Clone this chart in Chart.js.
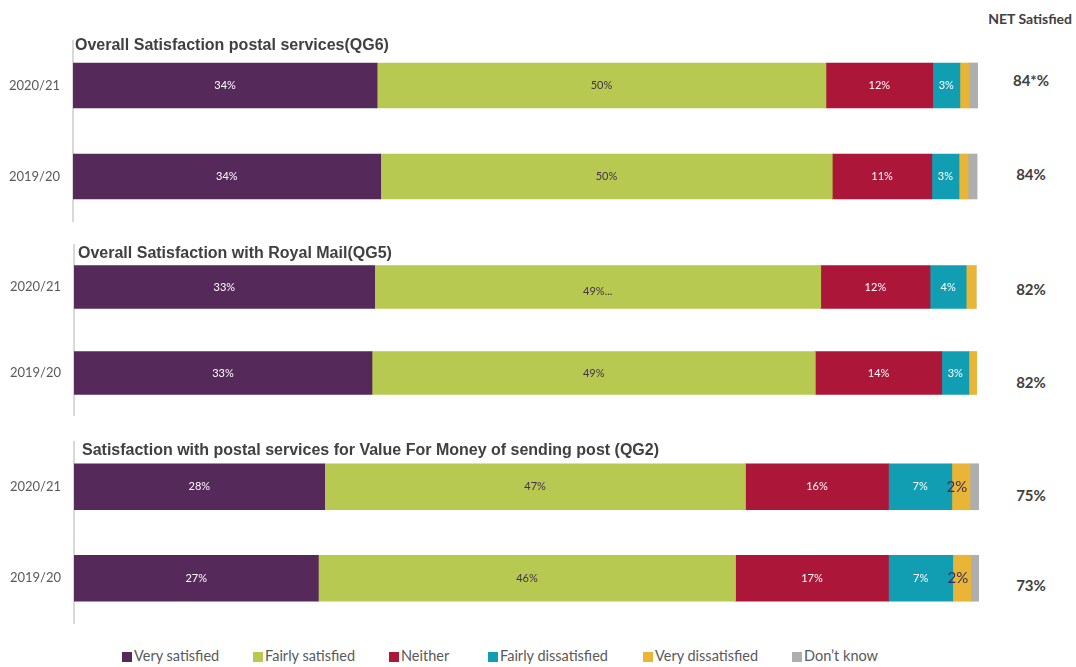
<!DOCTYPE html>
<html lang="en">
<head>
  <meta charset="UTF-8">
  <title>Satisfaction with postal services</title>
  <style>
    body { margin: 0; background: #fff; font-family: Lato, sans-serif; }
    #wrap { position: relative; width: 1076px; height: 667px; overflow: hidden; }
    .panel { position: absolute; left: 0; }
    .title { position: absolute; font-family: "Liberation Sans", Arial, sans-serif; font-weight: bold; font-size: 16px; color: #404040; white-space: nowrap; line-height: 18px; z-index: 2; }
    .net { position: absolute; width: 80px; left: 991px; text-align: center; font-weight: bold; font-size: 15px; color: #404040; line-height: 18px; }
    .lg { position: absolute; top: 648px; font-size: 14.5px; color: #595959; white-space: nowrap; line-height: 16px; }
    .lg i { display: inline-block; width: 10px; height: 10px; margin-right: 2px; vertical-align: -1px; }
  </style>
</head>
<body>
<div id="wrap">
  <div class="title" style="left:75px; top:36px;">Overall Satisfaction postal services(QG6)</div>
  <div class="title" style="left:78px; top:244px;">Overall Satisfaction with Royal Mail(QG5)</div>
  <div class="title" style="left:82px; top:441px;">Satisfaction with postal services for Value For Money of sending post (QG2)</div>
  <div style="position:absolute; right:4px; top:10px; font-weight:bold; font-size:14px; color:#404040;">NET Satisfied</div>
  <div id="netCol"></div>
  <div id="legend"></div>
  <canvas id="c1" class="panel" style="top:40px;"></canvas>
  <canvas id="c2" class="panel" style="top:244px;"></canvas>
  <canvas id="c3" class="panel" style="top:441px;"></canvas>
</div>

<script src="https://cdn.jsdelivr.net/npm/chart.js@4.4.1/dist/chart.umd.min.js"></script>
<script>
  const years = ['2020/21', '2019/20'];
  const seriesNames = ['Very satisfied', 'Fairly satisfied', 'Neither', 'Fairly dissatisfied', 'Very dissatisfied', 'Don\u2019t know'];

  // one row per series, [2020/21, 2019/20]
  const qg6 = [[33.6, 34.0], [49.6, 49.9], [11.8, 11.0], [3.0, 3.0], [1.0, 1.0], [1.0, 1.0]];
  const qg5 = [[33.3, 33.0], [49.4, 49.1], [12.1, 14.0], [4.0, 3.0], [1.1, 1.0], [0, 0]];
  const qg2 = [[27.7, 27.0], [46.5, 46.1], [15.8, 16.9], [7.0, 7.1], [2.0, 2.0], [1.0, 1.0]];

  const netSatisfied = ['84*%', '84%', '82%', '82%', '75%', '73%'];
  const netTops = [71, 165, 280, 373, 486, 576];

  const colors = ['#55295A', '#B7C951', '#AC1638', '#129EB2', '#E8B536', '#AEAEAF'];
  const labelColors = ['#ffffff', '#452f4d', '#ffffff', '#ffffff', '#3d2b55', '#3d2b55'];

  // the Royal Mail fairly satisfied 2020/21 label is cut off in the source
  const labelOverride = { 'c2|1|0': '49%...' };

  const segLabels = {
    id: 'segLabels',
    afterDatasetsDraw(chart) {
      const ctx = chart.ctx;
      ctx.save();
      ctx.textBaseline = 'middle';
      ctx.textAlign = 'center';
      chart.data.datasets.forEach((ds, di) => {
        chart.getDatasetMeta(di).data.forEach((bar, i) => {
          const v = ds.data[i];
          if (v < 1.5) return;
          const key = chart.canvas.id + '|' + di + '|' + i;
          let txt = labelOverride[key] || Math.round(v) + '%';
          let x = bar.x - (bar.x - bar.base) / 2;
          let y = bar.y;
          ctx.fillStyle = labelColors[di];
          ctx.font = '11px Lato, sans-serif';
          if (di === 4) {
            ctx.font = '15px Lato, sans-serif';
            x -= 4;
          }
          if (labelOverride[key]) y += 4;
          ctx.fillText(txt, x, y);
        });
      });
      ctx.restore();
    }
  };

  function makePanel(id, values, w, h, axisW, thick) {
    const cv = document.getElementById(id);
    cv.width = w; cv.height = h;
    cv.style.width = w + 'px'; cv.style.height = h + 'px';
    return new Chart(cv, {
      type: 'bar',
      data: {
        labels: years,
        datasets: values.map((vals, i) => ({
          label: seriesNames[i],
          data: vals,
          backgroundColor: colors[i],
          borderWidth: 0,
          barThickness: thick
        }))
      },
      options: {
        indexAxis: 'y',
        responsive: false,
        animation: false,
        layout: { padding: 0 },
        plugins: { legend: { display: false }, tooltip: { enabled: false } },
        scales: {
          x: { stacked: true, min: 0, max: 100, display: false },
          y: {
            stacked: true,
            afterFit: s => { s.width = axisW; s.paddingTop = 0; s.paddingBottom = 0; },
            grid: { display: false, drawTicks: false },
            border: { display: true, color: '#d9d9d9', width: 2 },
            ticks: { padding: 13, color: '#595959', font: { family: 'Lato', size: 13 } }
          }
        }
      },
      plugins: [segLabels]
    });
  }

  makePanel('c1', qg6, 978, 182, 73, 45);
  makePanel('c2', qg5, 977, 172, 74, 43);
  makePanel('c3', qg2, 979, 183, 74, 46);

  const netCol = document.getElementById('netCol');
  netSatisfied.forEach((t, i) => {
    const d = document.createElement('div');
    d.className = 'net';
    d.style.top = netTops[i] + 'px';
    d.textContent = t;
    netCol.appendChild(d);
  });

  const legendX = [122, 253, 389, 488, 643, 792];
  const legend = document.getElementById('legend');
  seriesNames.forEach((n, i) => {
    const d = document.createElement('div');
    d.className = 'lg';
    d.style.left = legendX[i] + 'px';
    d.innerHTML = '<i style="background:' + colors[i] + '"></i>' + n;
    legend.appendChild(d);
  });
</script>
</body>
</html>
